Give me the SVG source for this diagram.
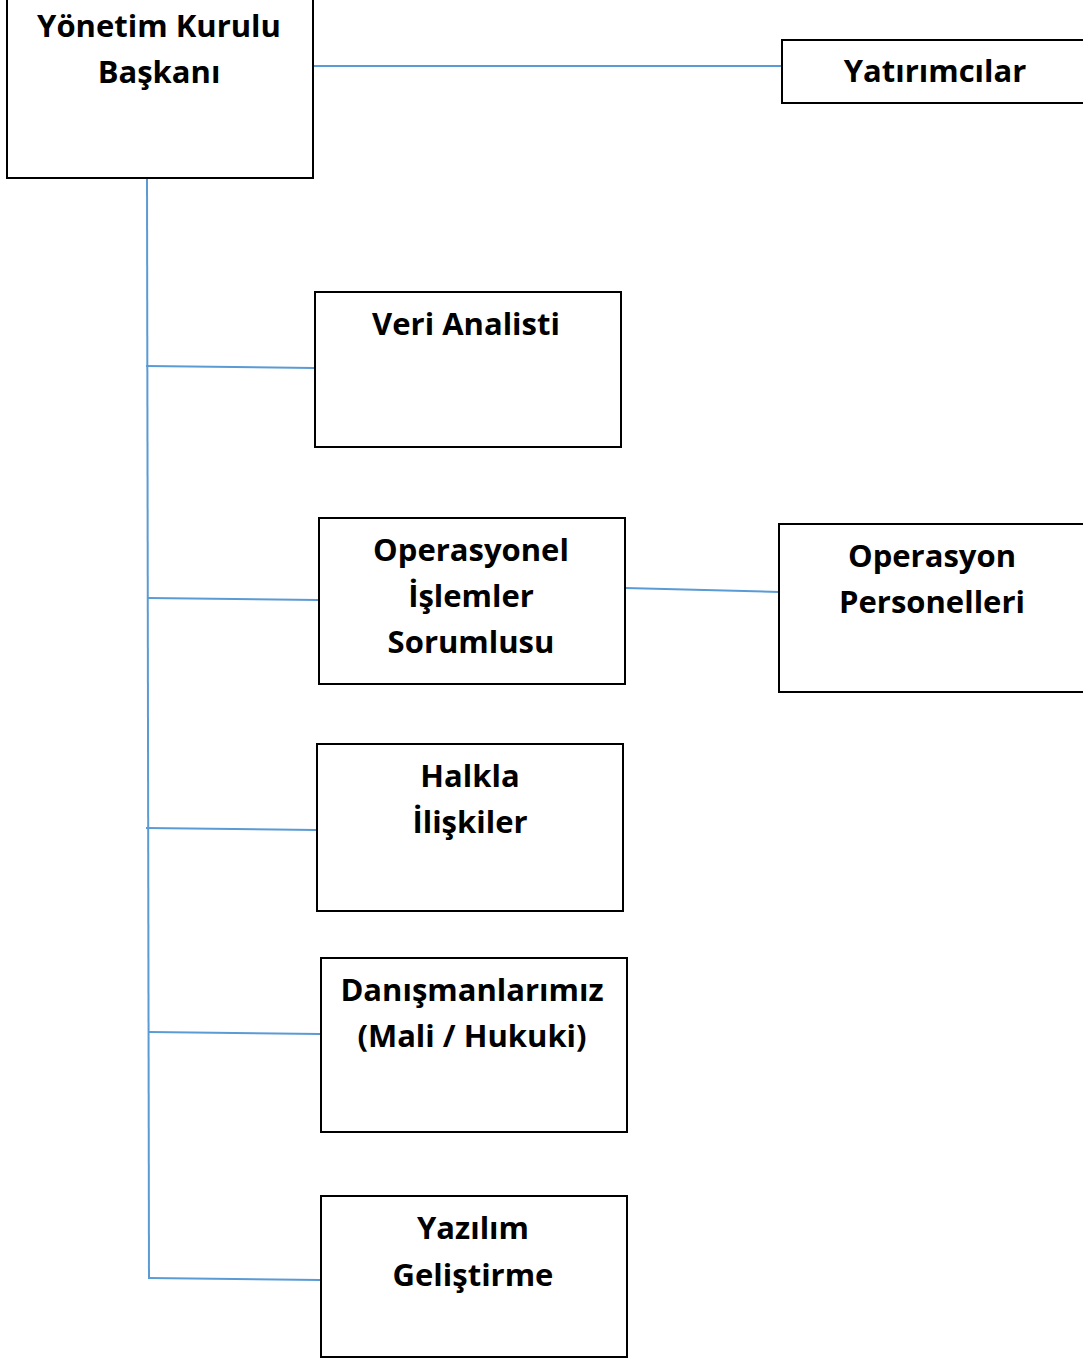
<svg xmlns="http://www.w3.org/2000/svg" width="1083" height="1360" viewBox="0 0 1083 1360">
<style>
.box{fill:#fff;stroke:#000;stroke-width:2}
.conn{stroke:#5B9BD5;stroke-width:2;fill:none}
text{font-family:"Open Sans","Liberation Sans",sans-serif;font-weight:700;font-size:31px;fill:#000;text-anchor:middle}
</style>
<rect width="1083" height="1360" fill="#fff"/>
<g id="connectors">
<line class="conn" x1="313" y1="66" x2="782" y2="66"/>
<line class="conn" x1="147" y1="178" x2="149" y2="1279"/>
<line class="conn" x1="146" y1="366" x2="314" y2="368"/>
<line class="conn" x1="148" y1="598" x2="318" y2="600"/>
<line class="conn" x1="625" y1="588" x2="779" y2="592"/>
<line class="conn" x1="146" y1="828" x2="316" y2="830"/>
<line class="conn" x1="149" y1="1032" x2="320" y2="1034"/>
<line class="conn" x1="148" y1="1278" x2="320" y2="1280"/>
</g>
<g id="baskan">
<rect class="box" x="7" y="-3" width="306" height="181"/>
<text x="159" y="37">Yönetim Kurulu</text>
<text x="159" y="83">Başkanı</text>
</g>
<g id="yatirimcilar">
<rect class="box" x="782" y="40" width="310" height="63"/>
<text x="935" y="82">Yatırımcılar</text>
</g>
<g id="veri">
<rect class="box" x="315" y="292" width="306" height="155"/>
<text x="466" y="335">Veri Analisti</text>
</g>
<g id="operasyonel">
<rect class="box" x="319" y="518" width="306" height="166"/>
<text x="471" y="561">Operasyonel</text>
<text x="471" y="607">İşlemler</text>
<text x="471" y="653">Sorumlusu</text>
</g>
<g id="personel">
<rect class="box" x="779" y="524" width="310" height="168"/>
<text x="932" y="567">Operasyon</text>
<text x="932" y="613">Personelleri</text>
</g>
<g id="halkla">
<rect class="box" x="317" y="744" width="306" height="167"/>
<text x="470" y="787">Halkla</text>
<text x="470" y="833">İlişkiler</text>
</g>
<g id="danisman">
<rect class="box" x="321" y="958" width="306" height="174"/>
<text x="472" y="1001">Danışmanlarımız</text>
<text x="472" y="1047">(Mali / Hukuki)</text>
</g>
<g id="yazilim">
<rect class="box" x="321" y="1196" width="306" height="161"/>
<text x="473" y="1239">Yazılım</text>
<text x="473" y="1286">Geliştirme</text>
</g>
</svg>
